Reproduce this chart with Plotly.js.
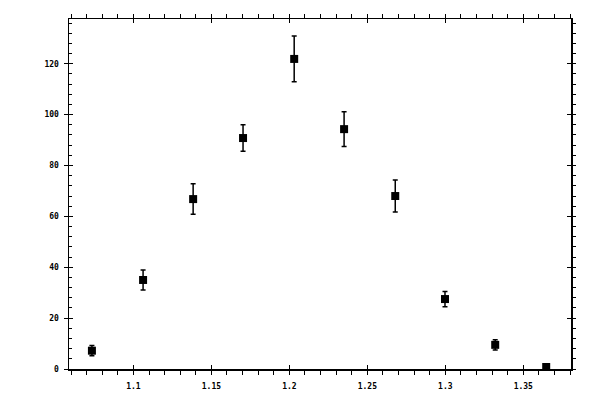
<!DOCTYPE html>
<html>
<head>
<meta charset="utf-8">
<script src="https://cdn.plot.ly/plotly-3.0.1.min.js"></script>
<style>
  html, body { margin: 0; padding: 0; background: #fff; }
  #chart { width: 600px; height: 400px; }
</style>
</head>
<body>
<div id="chart"></div>
<script>
// Measured points (x position, counts, symmetric error)
const xValues = [1.0734, 1.1062, 1.1383, 1.1703, 1.2031, 1.2351, 1.2679, 1.2998, 1.332, 1.3647];
const yValues = [7.2, 35.0, 66.8, 90.8, 121.9, 94.3, 68.0, 27.5, 9.5, 0.8];
const yErrors = [2.0, 3.9, 6.0, 5.2, 9.0, 6.8, 6.3, 3.0, 2.0, 1.0];

const xRange = [1.0587, 1.3806];
const yRange = [0, 137.6];

var chartDiv = document.getElementById('chart');
var axisColor = '#000';
var tickFont = { family: 'DejaVu Sans Mono, monospace', size: 8, color: '#000', weight: 'bold' };

var pointsTrace = {
  x: xValues,
  y: yValues,
  mode: 'markers',
  type: 'scatter',
  marker: { symbol: 'square', size: 8, color: '#000' },
  error_y: { type: 'data', array: yErrors, visible: true, color: '#000', thickness: 1.5, width: 2.5 },
  showlegend: false,
  hoverinfo: 'skip',
};

// Empty traces so the overlay axes get drawn
var xTrace = { x: [], y: [], xaxis: 'x2', yaxis: 'y', showlegend: false };
var yTrace = { x: [], y: [], xaxis: 'x', yaxis: 'y2', showlegend: false };
var rightTrace = { x: [], y: [], xaxis: 'x', yaxis: 'y3', showlegend: false };

var layout = {
  width: 600,
  height: 400,
  margin: { l: 69, r: 29, t: 19, b: 31, pad: 0 },
  paper_bgcolor: '#fff',
  plot_bgcolor: '#fff',
  showlegend: false,
  // bottom + top: outside ticks, minor outside
  xaxis: {
    range: xRange,
    dtick: 0.05,
    tick0: 1.0,
    ticks: 'outside',
    ticklen: 4,
    tickwidth: 1,
    tickcolor: axisColor,
    minor: { dtick: 0.01, tick0: 1.0, ticks: 'outside', ticklen: 3, tickwidth: 1, tickcolor: axisColor, showgrid: false },
    showline: true,
    linecolor: axisColor,
    linewidth: 1.5,
    mirror: 'allticks',
    showgrid: false,
    zeroline: false,
    tickfont: tickFont,
    ticklabelstandoff: 5,
  },
  // inside half of the crossing major ticks on x
  xaxis2: {
    overlaying: 'x',
    matches: 'x',
    range: xRange,
    dtick: 0.05,
    tick0: 1.0,
    ticks: 'inside',
    ticklen: 4,
    tickwidth: 1,
    tickcolor: axisColor,
    mirror: 'allticks',
    showticklabels: false,
    showgrid: false,
    zeroline: false,
  },
  // left: inside ticks with minor inside
  yaxis: {
    range: yRange,
    dtick: 20,
    tick0: 0,
    ticks: 'inside',
    ticklen: 4,
    tickwidth: 1,
    tickcolor: axisColor,
    minor: { dtick: 4, tick0: 0, ticks: 'inside', ticklen: 3, tickwidth: 1, tickcolor: axisColor, showgrid: false },
    showline: true,
    linecolor: axisColor,
    linewidth: 1.5,
    showgrid: false,
    zeroline: false,
    tickfont: tickFont,
    ticklabelstandoff: 7,
  },
  // outside half of the left major ticks (mirrored to the right)
  yaxis2: {
    overlaying: 'y',
    range: yRange,
    dtick: 20,
    tick0: 0,
    ticks: 'outside',
    ticklen: 4,
    tickwidth: 1,
    tickcolor: axisColor,
    mirror: 'allticks',
    showticklabels: false,
    showgrid: false,
    zeroline: false,
  },
  // right: inside major, minor outside
  yaxis3: {
    overlaying: 'y',
    side: 'right',
    range: yRange,
    dtick: 20,
    tick0: 0,
    ticks: 'inside',
    ticklen: 4,
    tickwidth: 1,
    tickcolor: axisColor,
    minor: { dtick: 4, tick0: 0, ticks: 'outside', ticklen: 3, tickwidth: 1, tickcolor: axisColor, showgrid: false },
    showline: true,
    linecolor: axisColor,
    linewidth: 1.5,
    showticklabels: false,
    showgrid: false,
    zeroline: false,
  },
};

var config = { responsive: false, displayModeBar: false, staticPlot: true };

Plotly.newPlot(chartDiv, [pointsTrace, xTrace, yTrace, rightTrace], layout, config);
</script>
</body>
</html>
